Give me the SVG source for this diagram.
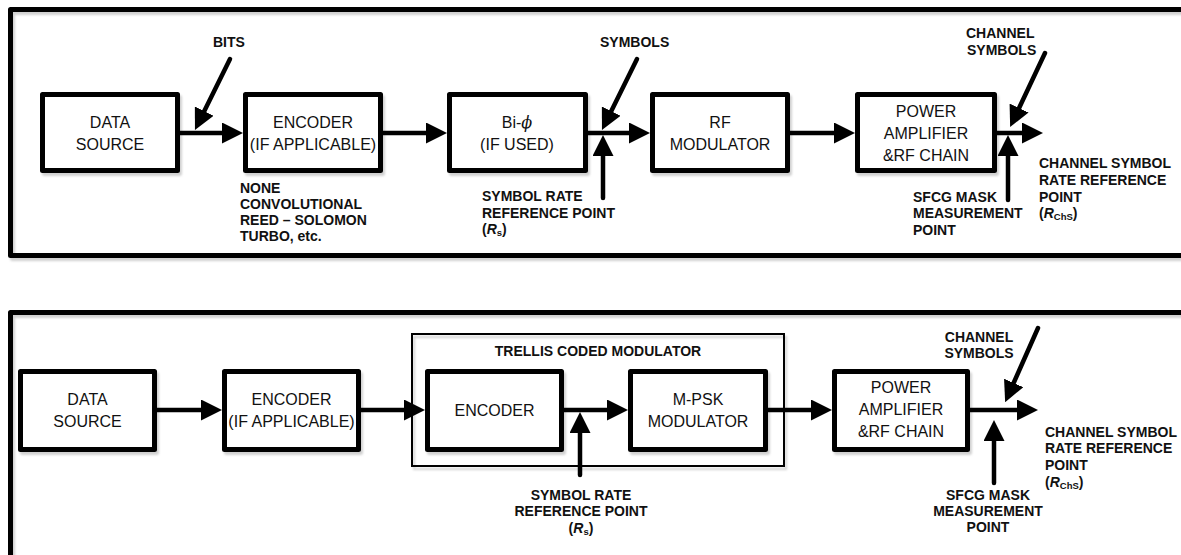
<svg xmlns="http://www.w3.org/2000/svg" width="1181" height="555" viewBox="0 0 1181 555">
<style>
.bg{fill:#fff}
.frame{fill:none;stroke:#000;stroke-width:5;stroke-linejoin:round}
.tcm{fill:none;stroke:#000;stroke-width:2}
.box{fill:#fff;stroke:#000;stroke-width:5;stroke-linejoin:round}
.bt{font-family:"Liberation Sans",Arial,sans-serif;font-size:16px;fill:#111;text-anchor:middle}
.lb{font-family:"Liberation Sans",Arial,sans-serif;font-size:14px;font-weight:bold;fill:#111}
.mid{text-anchor:middle}
.ln{stroke:#000;stroke-width:4.5;fill:none;stroke-linecap:butt}
.rl{stroke:#000;stroke-width:4.5;fill:none;stroke-linecap:round}
</style>
<defs>
<marker id="ah" markerUnits="userSpaceOnUse" markerWidth="21" markerHeight="21" refX="11" refY="10.5" orient="auto">
<path d="M0,0 L21,10.5 L0,21 z" fill="#000"/>
</marker>
<filter id="sh" x="-10%" y="-10%" width="120%" height="130%">
<feDropShadow dx="2" dy="3" stdDeviation="1" flood-color="#000" flood-opacity="0.18"/>
</filter>
</defs>
<rect class="bg" x="0" y="0" width="1181" height="555"/>

<g id="frames">
<path class="frame" filter="url(#sh)" d="M1190,9.5 H10.5 V255.5 H1190"/>
<path class="frame" filter="url(#sh)" d="M1190,312.5 H10.5 V560"/>
</g>

<g id="tcm-group">
<rect class="tcm" filter="url(#sh)" x="412" y="334" width="372" height="132"/>
<text class="lb mid" x="598" y="356">TRELLIS CODED MODULATOR</text>
</g>

<g id="connectors">
<!-- top panel -->
<line class="ln" x1="180" y1="133" x2="233" y2="133" marker-end="url(#ah)"/>
<line class="ln" x1="383" y1="133" x2="437" y2="133" marker-end="url(#ah)"/>
<line class="ln" x1="588" y1="133" x2="640" y2="133" marker-end="url(#ah)"/>
<line class="ln" x1="790" y1="133" x2="845" y2="133" marker-end="url(#ah)"/>
<line class="ln" x1="997" y1="133" x2="1033" y2="133" marker-end="url(#ah)"/>
<line class="rl" x1="230" y1="59" x2="199.4" y2="121" marker-end="url(#ah)"/>
<line class="rl" x1="637" y1="59" x2="606.4" y2="121" marker-end="url(#ah)"/>
<line class="rl" x1="1045" y1="53" x2="1014.4" y2="118" marker-end="url(#ah)"/>
<line class="rl" x1="603" y1="198" x2="603" y2="145" marker-end="url(#ah)"/>
<line class="rl" x1="1008" y1="200" x2="1008" y2="145" marker-end="url(#ah)"/>
<!-- bottom panel -->
<line class="ln" x1="157" y1="410" x2="212" y2="410" marker-end="url(#ah)"/>
<line class="ln" x1="361" y1="410" x2="415" y2="410" marker-end="url(#ah)"/>
<line class="ln" x1="564" y1="410" x2="618" y2="410" marker-end="url(#ah)"/>
<line class="ln" x1="768" y1="410" x2="822" y2="410" marker-end="url(#ah)"/>
<line class="ln" x1="970" y1="410" x2="1028" y2="410" marker-end="url(#ah)"/>
<line class="rl" x1="1038" y1="328" x2="1009.2" y2="393" marker-end="url(#ah)"/>
<line class="rl" x1="580" y1="475" x2="580" y2="422" marker-end="url(#ah)"/>
<line class="rl" x1="994" y1="483" x2="994" y2="430" marker-end="url(#ah)"/>
</g>

<!-- top panel nodes -->
<g id="top-data-source">
<rect class="box" filter="url(#sh)" x="42.5" y="94.5" width="135" height="76"/>
<text class="bt" x="110" y="128">DATA</text>
<text class="bt" x="110" y="150">SOURCE</text>
</g>
<g id="top-encoder">
<rect class="box" filter="url(#sh)" x="245.5" y="94.5" width="135" height="76"/>
<text class="bt" x="313" y="128">ENCODER</text>
<text class="bt" x="313" y="150">(IF APPLICABLE)</text>
</g>
<g id="top-biphase">
<rect class="box" filter="url(#sh)" x="449.5" y="94.5" width="136" height="76"/>
<text class="bt" x="517" y="128">Bi-<tspan font-family="'DejaVu Serif',serif" font-style="italic">ϕ</tspan></text>
<text class="bt" x="517" y="150">(IF USED)</text>
</g>
<g id="top-rf-modulator">
<rect class="box" filter="url(#sh)" x="652.5" y="94.5" width="135" height="76"/>
<text class="bt" x="720" y="128">RF</text>
<text class="bt" x="720" y="150">MODULATOR</text>
</g>
<g id="top-power-amp">
<rect class="box" filter="url(#sh)" x="857.5" y="94.5" width="137" height="76"/>
<text class="bt" x="926" y="117">POWER</text>
<text class="bt" x="926" y="139">AMPLIFIER</text>
<text class="bt" x="926" y="161">&amp;RF CHAIN</text>
</g>

<g id="top-labels">
<text class="lb" x="213" y="47">BITS</text>
<text class="lb" x="600" y="47">SYMBOLS</text>
<text class="lb" x="966" y="38">CHANNEL</text>
<text class="lb" x="967" y="54.5">SYMBOLS</text>
<text class="lb" x="240" y="193">NONE</text>
<text class="lb" x="240" y="209">CONVOLUTIONAL</text>
<text class="lb" x="240" y="225">REED – SOLOMON</text>
<text class="lb" x="240" y="241">TURBO, etc.</text>
<text class="lb" x="482" y="201">SYMBOL RATE</text>
<text class="lb" x="482" y="218">REFERENCE POINT</text>
<text class="lb" x="482" y="234">(<tspan font-style="italic">R</tspan><tspan font-size="9.5" dy="2">s</tspan><tspan dy="-2">)</tspan></text>
<text class="lb" x="913" y="202">SFCG MASK</text>
<text class="lb" x="913" y="218">MEASUREMENT</text>
<text class="lb" x="913" y="235">POINT</text>
<text class="lb" x="1039" y="168">CHANNEL SYMBOL</text>
<text class="lb" x="1039" y="185">RATE REFERENCE</text>
<text class="lb" x="1039" y="202">POINT</text>
<text class="lb" x="1039" y="218">(<tspan font-style="italic">R</tspan><tspan font-size="9.5" dy="2">ChS</tspan><tspan dy="-2">)</tspan></text>
</g>

<!-- bottom panel nodes -->
<g id="bot-data-source">
<rect class="box" filter="url(#sh)" x="20.5" y="371.5" width="134" height="78"/>
<text class="bt" x="87.5" y="405">DATA</text>
<text class="bt" x="87.5" y="427">SOURCE</text>
</g>
<g id="bot-encoder">
<rect class="box" filter="url(#sh)" x="224.5" y="371.5" width="134" height="78"/>
<text class="bt" x="291.5" y="405">ENCODER</text>
<text class="bt" x="291.5" y="427">(IF APPLICABLE)</text>
</g>
<g id="bot-tcm-encoder">
<rect class="box" filter="url(#sh)" x="427.5" y="371.5" width="134" height="78"/>
<text class="bt" x="494.5" y="416">ENCODER</text>
</g>
<g id="bot-mpsk">
<rect class="box" filter="url(#sh)" x="630.5" y="371.5" width="135" height="78"/>
<text class="bt" x="698" y="405">M-PSK</text>
<text class="bt" x="698" y="427">MODULATOR</text>
</g>
<g id="bot-power-amp">
<rect class="box" filter="url(#sh)" x="834.5" y="371.5" width="133" height="78"/>
<text class="bt" x="901" y="393">POWER</text>
<text class="bt" x="901" y="415">AMPLIFIER</text>
<text class="bt" x="901" y="437">&amp;RF CHAIN</text>
</g>

<g id="bottom-labels">
<text class="lb mid" x="979" y="342">CHANNEL</text>
<text class="lb mid" x="979" y="358">SYMBOLS</text>
<text class="lb mid" x="581" y="500">SYMBOL RATE</text>
<text class="lb mid" x="581" y="516">REFERENCE POINT</text>
<text class="lb mid" x="581" y="533">(<tspan font-style="italic">R</tspan><tspan font-size="9.5" dy="2">s</tspan><tspan dy="-2">)</tspan></text>
<text class="lb mid" x="988" y="500">SFCG MASK</text>
<text class="lb mid" x="988" y="516">MEASUREMENT</text>
<text class="lb mid" x="988" y="532">POINT</text>
<text class="lb" x="1045" y="437">CHANNEL SYMBOL</text>
<text class="lb" x="1045" y="453">RATE REFERENCE</text>
<text class="lb" x="1045" y="470">POINT</text>
<text class="lb" x="1045" y="487">(<tspan font-style="italic">R</tspan><tspan font-size="9.5" dy="2">ChS</tspan><tspan dy="-2">)</tspan></text>
</g>
</svg>
